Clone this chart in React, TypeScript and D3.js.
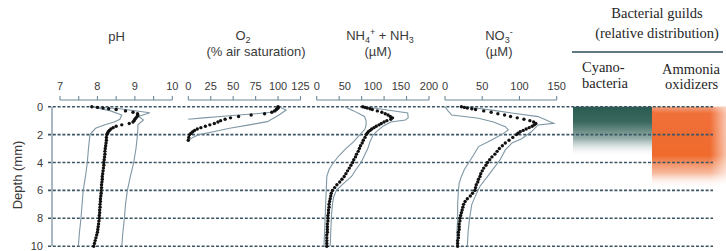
import React from "react";
import * as d3 from "d3";

// ---------- data ----------
const DEPTHS = [0,0.05,0.1,0.15,0.2,0.3,0.4,0.5,0.6,0.7,0.8,0.9,1.0,1.1,1.2,1.3,1.4,1.5,1.6,1.7,1.8,1.9,2.0,
  2.2,2.4,2.6,2.8,3.0,3.2,3.4,3.6,3.8,4.0,4.2,4.4,4.6,4.8,5.0,5.2,5.4,5.6,5.8,6.0,
  6.2,6.4,6.6,6.8,7.0,7.2,7.4,7.6,7.8,8.0,8.2,8.4,8.6,8.8,9.0,9.2,9.4,9.6,9.8,10.0];

const PH_MEAN = [7.85,8.0,8.15,8.3,8.5,8.75,8.95,9.07,9.08,9.06,9.03,9.0,8.98,8.95,8.85,8.65,8.5,8.42,8.36,8.32,8.29,8.27,8.25,
  8.24,8.24,8.23,8.22,8.21,8.2,8.2,8.19,8.18,8.17,8.17,8.16,8.15,8.14,8.13,8.13,8.12,8.11,8.11,8.1,
  8.1,8.09,8.08,8.08,8.07,8.07,8.06,8.06,8.05,8.05,8.04,8.03,8.02,8.01,8.0,7.98,7.96,7.94,7.92,7.9];
const PH_HI_DEPTHS = [0,0.15,0.43,0.7,0.95,1.3,1.6,2,3,4,5,6,7,8,9,10];
const PH_HI = [7.9,8.6,9.4,9.1,9.23,9.08,9.08,9.07,9.03,8.97,8.88,8.8,8.75,8.72,8.68,8.65];
const PH_LO_DEPTHS = [0,0.3,0.6,0.9,1.1,1.3,1.55,2,3,4,5,6,7,8,9,10];
const PH_LO = [7.85,8.35,8.65,8.6,8.45,8.2,7.95,7.8,7.76,7.73,7.68,7.62,7.59,7.56,7.52,7.49];

const O2_DEPTHS = [0,0.05,0.1,0.15,0.2,0.3,0.4,0.5,0.6,0.7,0.8,0.9,1.0,1.1,1.2,1.3,1.4,1.5,1.6,1.7,1.8,1.9,2.0,2.2,2.4];
const O2_MEAN = [100,100,100,99,98,96,93,85,70,56,47,41,36,33,29,24,19,14,10,7,5,3,1.5,0.5,0];
const O2_HI_DEPTHS = [0,0.24,0.6,1.07,1.3,1.55,1.8,2.0,2.2,2.4];
const O2_HI = [101,109,101,88,68,46,28,12,5,1];
const O2_LO_DEPTHS = [0,0.2,0.36,0.5,0.6,0.7,0.8,0.9];
const O2_LO = [100,99,98,75,56,36,17,0];

const NH_MEAN = [82,86,90,95,99,108,116,122,127,131,135,132,125,120,115,111,106,102,98,95,92,90,88,
  86,83,81,78,76,74,71,69,66,64,61,58,55,52,49,45,41,36,32,28,
  26,25,24,23,22,22,21,21,20,20,20,19,19,19,19,18,18,18,18,18];
const NH_HI_DEPTHS = [0,0.2,0.45,0.8,0.95,1.1,1.4,1.7,2.0,2.5,3.0,3.5,4.0,4.5,5.0,5.5,6.0,6.5,7,8,9,10];
const NH_HI = [85,120,162,163,158,132,118,109,101,95,91,85,79,70,62,48,35,30,28,26,25,24];
const NH_LO_DEPTHS = [0,0.3,0.7,1.0,1.3,1.6,2.0,2.5,3.0,3.5,4.0,4.5,5,6,7,8,9,10];
const NH_LO = [50,66,85,88,88,86,77,66,52,40,30,22,18,17,16,15,14,13];

const NO_MEAN = [22,26,30,36,41,52,62,71,80,88,97,106,114,119,122,120,117,113,109,105,101,98,96,
  91,86,81,77,73,70,67,63,60,57,55,52,50,48,47,45,44,42,41,40,
  37,34,30,27,25,24,23,22,21,20,20,19,19,19,18,18,18,17,17,17];
const NO_HI_DEPTHS = [0,0.3,0.71,1.0,1.19,1.31,1.8,2.3,2.6,3.1,3.8,4.8,5.7,6.5,7,8,9,10];
const NO_HI = [28,70,125,138,146,125,116,103,90,81,74,60,47,40,36,33,31,30];
const NO_LO_DEPTHS = [0,0.3,0.6,0.83,1.1,1.43,1.67,2.0,2.4,2.86,3.5,4.0,4.5,5.0,5.5,6,7,8,9,10];
const NO_LO = [0,4,9,45,65,81,85,76,62,45,38,32,26,22,19,18,17,17,16,16];

const DEPTH_TICKS = [0,2,4,6,8,10];
const PH_TICKS = [7,7.5,8,8.5,9,9.5,10];
const PH_LABELS = [7,8,9,10];
const O2_TICKS = [0,25,50,75,100,125];
const O2_LABELS = [0,25,50,75,100,125];
const NH_TICKS = [0,40,80,120,160,200];
const NH_LABELS = [0,50,100,150,200];
const NO_TICKS = [0,50,100,150];
const NO_LABELS = [0,50,100,150];

// ---------- layout ----------
const W = 726, H = 251;
const AXIS_Y = 100;
const GRID_X0 = 48, GRID_X1 = 713;
const y = d3.scaleLinear().domain([0, 10]).range([106.7, 246.2]);

const panels = [
  { x: d3.scaleLinear().domain([7, 10]).range([60, 172.3]), ticks: PH_TICKS, labels: PH_LABELS,
    depths: DEPTHS, mean: PH_MEAN, hiD: PH_HI_DEPTHS, hi: PH_HI, loD: PH_LO_DEPTHS, lo: PH_LO },
  { x: d3.scaleLinear().domain([0, 125]).range([188.3, 300.5]), ticks: O2_TICKS, labels: O2_LABELS,
    depths: O2_DEPTHS, mean: O2_MEAN, hiD: O2_HI_DEPTHS, hi: O2_HI, loD: O2_LO_DEPTHS, lo: O2_LO },
  { x: d3.scaleLinear().domain([0, 200]).range([316.7, 429]), ticks: NH_TICKS, labels: NH_LABELS,
    depths: DEPTHS, mean: NH_MEAN, hiD: NH_HI_DEPTHS, hi: NH_HI, loD: NH_LO_DEPTHS, lo: NH_LO },
  { x: d3.scaleLinear().domain([0, 150]).range([445, 556.7]), ticks: NO_TICKS, labels: NO_LABELS,
    depths: DEPTHS, mean: NO_MEAN, hiD: NO_HI_DEPTHS, hi: NO_HI, loD: NO_LO_DEPTHS, lo: NO_LO },
];

const AXIS_COLOR = "#6f8896";
const ENV_COLOR = "#7f97a4";
const GRID_COLOR = "#3c5565";
const TEXT_COLOR = "#3a3a3a";
const SANS = "Liberation Sans, Arial, sans-serif";
const SERIF = "Liberation Serif, Times New Roman, serif";

export default function App() {
  const envLine = (xs: d3.ScaleLinear<number, number>, ds: number[], vs: number[]) =>
    d3.line<number>().x((v) => xs(v)).y((_, i) => y(ds[i]))(vs) || "";

  return (
    <div style={{ position: "fixed", left: 0, top: 0 }}>
      <svg width={W} height={H} style={{ display: "block", background: "#fff" }}>
        <defs>
          <linearGradient id="cyano" x1="0" y1="0" x2="0" y2="1">
            <stop offset="0" stopColor="#2a5b50" />
            <stop offset="0.3" stopColor="#3a685f" />
            <stop offset="0.65" stopColor="#9ab2ad" />
            <stop offset="1" stopColor="#ffffff" stopOpacity="0" />
          </linearGradient>
          <linearGradient id="ammonia" x1="0" y1="0" x2="0" y2="1">
            <stop offset="0" stopColor="#f4a27e" />
            <stop offset="0.08" stopColor="#f0703a" />
            <stop offset="0.6" stopColor="#ef6a2c" />
            <stop offset="0.82" stopColor="#f39a72" stopOpacity="0.7" />
            <stop offset="1" stopColor="#ffffff" stopOpacity="0" />
          </linearGradient>
          <linearGradient id="fadeRight" x1="0" y1="0" x2="1" y2="0">
            <stop offset="0" stopColor="#ffffff" stopOpacity="0" />
            <stop offset="1" stopColor="#ffffff" stopOpacity="0.6" />
          </linearGradient>
        </defs>

        {/* Bacterial guild distributions */}
        <rect x={573} y={y(0)} width={79} height={y(3.6) - y(0)} fill="url(#cyano)" />
        <rect x={652} y={y(0)} width={74} height={y(5.8) - y(0)} fill="url(#ammonia)" />
        <rect x={710} y={y(0)} width={16} height={y(5.8) - y(0)} fill="url(#fadeRight)" />

        {/* Depth gridlines */}
        {DEPTH_TICKS.map((d) => (
          <line key={d} x1={GRID_X0} x2={GRID_X1} y1={y(d)} y2={y(d)}
            stroke={GRID_COLOR} strokeWidth={1.6} strokeDasharray="3,1.8" />
        ))}

        {/* Depth axis */}
        <line x1={52} x2={52} y1={y(0)} y2={y(10)} stroke={AXIS_COLOR} strokeWidth={1.2} />
        {DEPTH_TICKS.map((d) => (
          <text key={d} x={43} y={Math.min(y(d) + 4, 250)} textAnchor="end" fontFamily={SANS} fontSize={11} fill={TEXT_COLOR}>{d}</text>
        ))}
        <text transform={`translate(22,175) rotate(-90)`} textAnchor="middle" fontFamily={SANS} fontSize={13} fill={TEXT_COLOR}>Depth (mm)</text>

        {/* Panel axes */}
        {panels.map((p, i) => {
          const [r0, r1] = p.x.range();
          return (
            <g key={i}>
              <line x1={r0} x2={r1} y1={AXIS_Y} y2={AXIS_Y} stroke={AXIS_COLOR} strokeWidth={1.1} />
              {p.ticks.map((t) => (
                <line key={t} x1={p.x(t)} x2={p.x(t)} y1={AXIS_Y} y2={AXIS_Y - 4} stroke={AXIS_COLOR} strokeWidth={1.1} />
              ))}
              {p.labels.map((t) => (
                <text key={t} x={p.x(t)} y={89.5} textAnchor="middle" fontFamily={SANS} fontSize={11} fill={TEXT_COLOR}>{t}</text>
              ))}
            </g>
          );
        })}

        {/* Panel titles */}
        <g fontFamily={SANS} fontSize={13} fill={TEXT_COLOR} textAnchor="middle">
          <text x={116.5} y={41}>pH</text>
          <text x={243} y={40}>O<tspan fontSize={9} dy={3}>2</tspan></text>
          <text x={256} y={56}>(% air saturation)</text>
          <text x={380} y={40}>NH<tspan fontSize={9} dy={3}>4</tspan><tspan fontSize={9} dy={-8}>+</tspan><tspan dy={5}> + NH</tspan><tspan fontSize={9} dy={3}>3</tspan></text>
          <text x={378} y={56}>(µM)</text>
          <text x={499} y={40}>NO<tspan fontSize={9} dy={3}>3</tspan><tspan fontSize={9} dy={-8}>-</tspan></text>
          <text x={499} y={56}>(µM)</text>
        </g>

        {/* Bacterial guilds header */}
        <g fontFamily={SERIF} fill="#262626" fontSize={14.5}>
          <text x={657} y={18} textAnchor="middle">Bacterial guilds</text>
          <text x={657} y={38} textAnchor="middle">(relative distribution)</text>
          <text x={582} y={72}>Cyano-</text>
          <text x={582} y={88}>bacteria</text>
          <text x={662} y={74}>Ammonia</text>
          <text x={665} y={89}>oxidizers</text>
        </g>
        <line x1={572} x2={723} y1={52} y2={52} stroke="#2d4c58" strokeWidth={1.6} />

        {/* Profiles */}
        {panels.map((p, i) => (
          <g key={i}>
            <path d={envLine(p.x, p.hiD, p.hi)} fill="none" stroke={ENV_COLOR} strokeWidth={1.1} />
            <path d={envLine(p.x, p.loD, p.lo)} fill="none" stroke={ENV_COLOR} strokeWidth={1.1} />
            {p.mean.map((v, j) => (
              <circle key={j} cx={p.x(v)} cy={y(p.depths[j])} r={1.7} fill="#111" />
            ))}
          </g>
        ))}
      </svg>
    </div>
  );
}
